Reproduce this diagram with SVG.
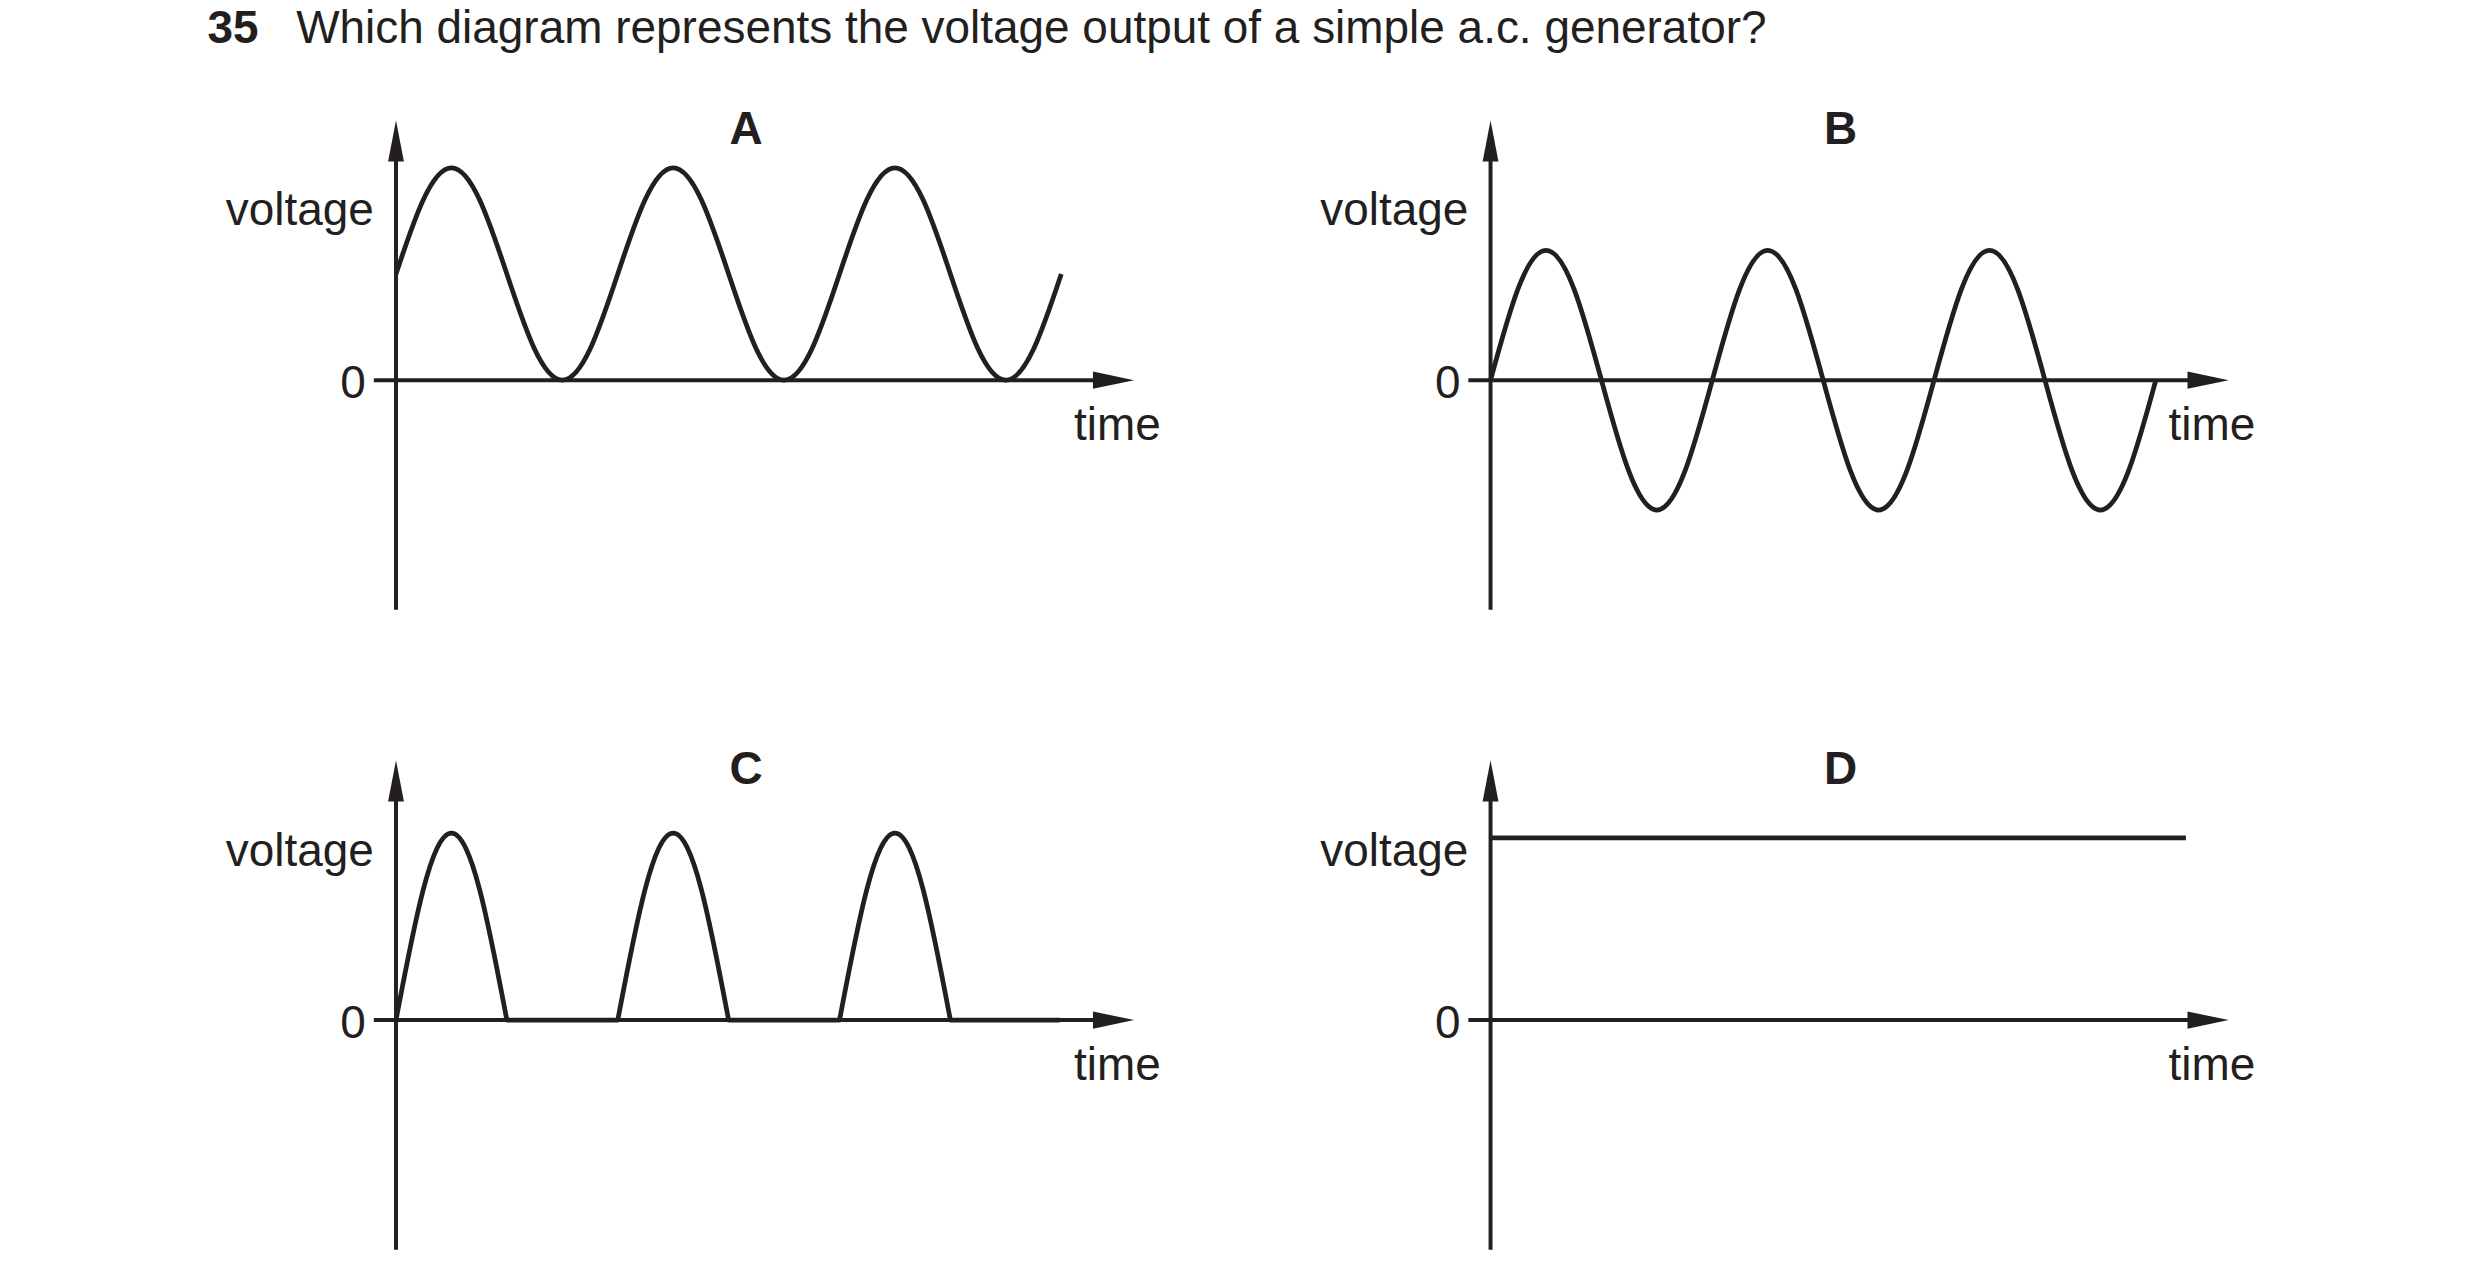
<svg xmlns="http://www.w3.org/2000/svg" width="2480" height="1288" viewBox="0 0 2480 1288">
<style>
text{font-family:"Liberation Sans",Arial,sans-serif;fill:#231f20;font-size:29px}
.b{font-weight:bold}
.ax{stroke:#231f20;stroke-width:2.5;fill:none}
.w{stroke:#231f20;stroke-width:3;fill:none;stroke-linejoin:round}
.ah{fill:#231f20}
</style>
<defs>
<path id="up" d="M0,0 L-5,26 L5,26 Z"/>
<path id="rt" d="M0,0 L-26,-5.5 L-26,5.5 Z"/>
</defs>
<rect width="2480" height="1288" fill="#fff"/>
<g transform="scale(1.584)">
<g id="title"><text x="131" y="27" class="b">35</text><text x="187" y="27">Which diagram represents the voltage output of a simple a.c. generator?</text></g>
<g id="graphA">
<text x="471" y="91" class="b" text-anchor="middle">A</text>
<path class="ax" d="M250,385 V95 M236,240 H695"/>
<use href="#up" x="250" y="76" class="ah"/><use href="#rt" x="716" y="240" class="ah"/>
<text x="236" y="142" text-anchor="end">voltage</text><text x="231" y="251" text-anchor="end">0</text><text x="678" y="278">time</text>
<path class="w" d="M250,173 c11.7,-35.2 22.4,-67 35,-67 c12.6,0 23.3,31.8 35,67 c11.7,35.2 22.4,67 35,67 c12.6,0 23.3,-31.8 35,-67 c11.7,-35.2 22.4,-67 35,-67 c12.6,0 23.3,31.8 35,67 c11.7,35.2 22.4,67 35,67 c12.6,0 23.3,-31.8 35,-67 c11.7,-35.2 22.4,-67 35,-67 c12.6,0 23.3,31.8 35,67 c11.7,35.2 22.4,67 35,67 c12.6,0 23.3,-31.8 35,-67"/>
</g>
<g id="graphB">
<text x="1162" y="91" class="b" text-anchor="middle">B</text>
<path class="ax" d="M941,385 V95 M927,240 H1386"/>
<use href="#up" x="941" y="76" class="ah"/><use href="#rt" x="1407" y="240" class="ah"/>
<text x="927" y="142" text-anchor="end">voltage</text><text x="922" y="251" text-anchor="end">0</text><text x="1369" y="278">time</text>
<path class="w" d="M941,240 c11.7,-43.1 22.4,-82 35,-82 c12.6,0 23.3,38.9 35,82 c11.7,43.1 22.4,82 35,82 c12.6,0 23.3,-38.9 35,-82 c11.7,-43.1 22.4,-82 35,-82 c12.6,0 23.3,38.9 35,82 c11.7,43.1 22.4,82 35,82 c12.6,0 23.3,-38.9 35,-82 c11.7,-43.1 22.4,-82 35,-82 c12.6,0 23.3,38.9 35,82 c11.7,43.1 22.4,82 35,82 c12.6,0 23.3,-38.9 35,-82"/>
</g>
<g id="graphC">
<text x="471" y="495" class="b" text-anchor="middle">C</text>
<path class="ax" d="M250,789 V499 M236,644 H695"/>
<use href="#up" x="250" y="480" class="ah"/><use href="#rt" x="716" y="644" class="ah"/>
<text x="236" y="547" text-anchor="end">voltage</text><text x="231" y="655" text-anchor="end">0</text><text x="678" y="682">time</text>
<path class="w" d="M250,644 c11.7,-62 22.4,-118 35,-118 c12.6,0 23.3,56 35,118 h70 c11.7,-62 22.4,-118 35,-118 c12.6,0 23.3,56 35,118 h70 c11.7,-62 22.4,-118 35,-118 c12.6,0 23.3,56 35,118 h69"/>
</g>
<g id="graphD">
<text x="1162" y="495" class="b" text-anchor="middle">D</text>
<path class="ax" d="M941,789 V499 M927,644 H1386"/>
<use href="#up" x="941" y="480" class="ah"/><use href="#rt" x="1407" y="644" class="ah"/>
<text x="927" y="547" text-anchor="end">voltage</text><text x="922" y="655" text-anchor="end">0</text><text x="1369" y="682">time</text>
<path class="w" d="M941,529 H1380"/>
</g>
</g>
</svg>
